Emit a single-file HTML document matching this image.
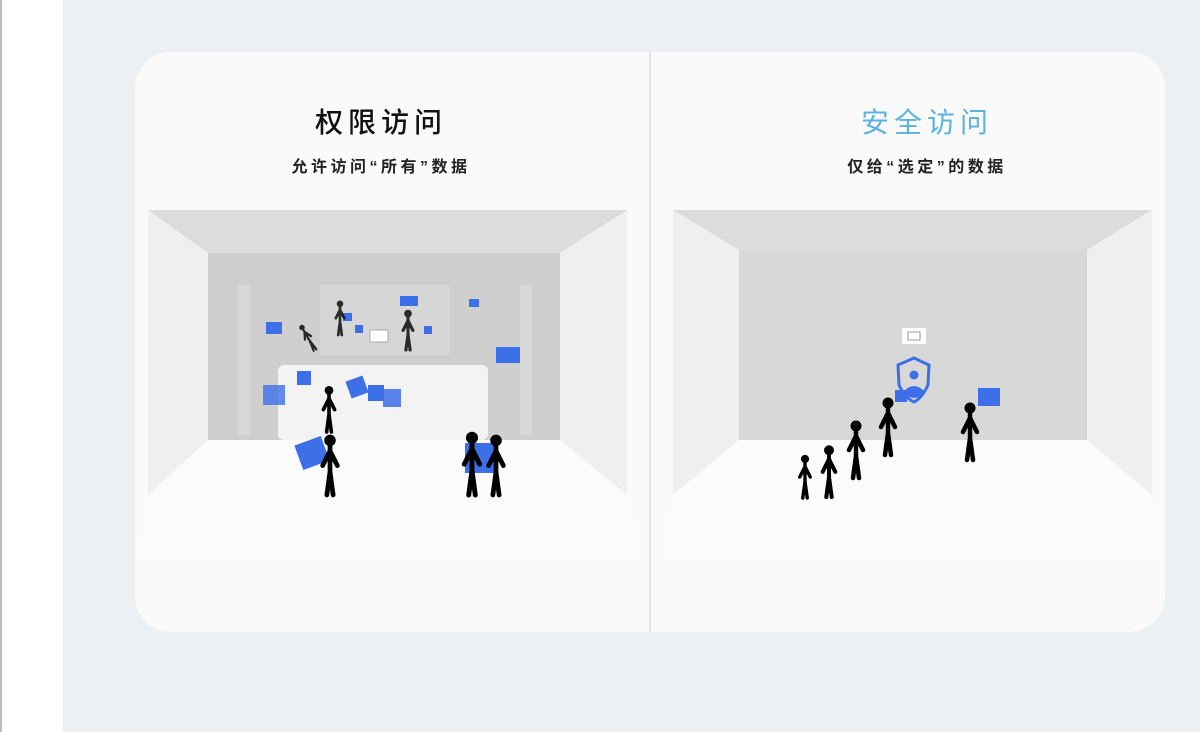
<!DOCTYPE html>
<html><head><meta charset="utf-8"><style>
html,body{margin:0;padding:0;width:1200px;height:732px;overflow:hidden;background:#fff}
svg{display:block}
text{font-family:"Liberation Sans","Noto Sans CJK SC",sans-serif}
</style></head><body>
<svg width="1200" height="732" viewBox="0 0 1200 732" xmlns="http://www.w3.org/2000/svg">
<defs>
<g id="fig">
 <circle cx="0" cy="-52" r="5.5" fill="#000"/>
 <path d="M0,-46 L0,-22 M0,-22 L-3,0 M0,-22 L3,0 M0,-42 L-7,-28 M0,-42 L7,-28" stroke="#000" stroke-width="4.5" stroke-linecap="round" fill="none"/>
</g>
</defs>
<rect x="0" y="0" width="63" height="732" fill="#fff"/>
<rect x="0" y="0" width="2" height="732" fill="#bbb"/>
<rect x="63" y="0" width="1137" height="732" fill="#edf0f2"/>
<rect x="135" y="52" width="1030" height="580" rx="36" fill="#fafafa"/>
<rect x="649" y="52" width="2" height="580" fill="#e2e2e2"/>

<text x="381" y="132" font-size="28" font-weight="500" text-anchor="middle" fill="#111" letter-spacing="5">权限访问</text>
<text x="381" y="172" font-size="16" font-weight="600" text-anchor="middle" fill="#222" letter-spacing="3.5">允许访问“所有”数据</text>
<text x="927" y="132" font-size="28" text-anchor="middle" fill="#5ab2e2" letter-spacing="5">安全访问</text>
<text x="927" y="172" font-size="16" font-weight="600" text-anchor="middle" fill="#222" letter-spacing="3.5">仅给“选定”的数据</text>

<!-- left room -->
<rect x="148" y="210" width="479" height="285" fill="#f0f0f0"/>
<polygon points="148,210 627,210 560,253 208,253" fill="#dcdcdc"/>
<polygon points="148,210 208,253 208,440 148,495" fill="#efefef"/>
<polygon points="627,210 560,253 560,440 627,495" fill="#efefef"/>
<rect x="208" y="253" width="352" height="187" fill="#cfcfcf"/>
<polygon points="208,440 560,440 627,495 640,560 140,560 148,495" fill="#fbfbfb"/>
<rect x="238" y="285" width="12" height="150" fill="#d8d8d8"/>
<rect x="520" y="285" width="12" height="150" fill="#d8d8d8"/>
<rect x="320" y="285" width="130" height="70" fill="#d6d6d6"/>
<rect x="278" y="365" width="210" height="75" rx="6" fill="#f3f3f3"/>
<rect x="370" y="330" width="18" height="12" fill="#fff" stroke="#aaa"/>
<g fill="#3d6fe8">
<rect x="266" y="322" width="16" height="12"/><rect x="400" y="296" width="18" height="10"/><rect x="343" y="313" width="9" height="8"/>
<rect x="469" y="299" width="10" height="8"/><rect x="496" y="347" width="24" height="16"/><rect x="355" y="325" width="8" height="8"/>
<rect x="424" y="326" width="8" height="8"/><rect x="297" y="371" width="14" height="14"/><rect x="263" y="385" width="22" height="20" opacity=".8"/>
<rect x="348" y="378" width="18" height="18" transform="rotate(-20 357 387)"/><rect x="368" y="385" width="16" height="16"/><rect x="383" y="389" width="18" height="18" opacity=".85"/>
<rect x="298" y="440" width="28" height="26" transform="rotate(-20 312 453)"/><rect x="465" y="443" width="30" height="30"/>
</g>
<g fill="#555" opacity=".8">
<use href="#fig" transform="translate(340,335) scale(.6)"/>
<use href="#fig" transform="translate(408,350) scale(.7)"/>
<use href="#fig" transform="translate(315,350) scale(.5) rotate(-30)"/>
</g>
<use href="#fig" transform="translate(329,432) scale(.8)"/>
<use href="#fig" transform="translate(330,495) scale(1.05)"/>
<use href="#fig" transform="translate(472,495) scale(1.1)"/>
<use href="#fig" transform="translate(496,495) scale(1.05)"/>

<!-- right room -->
<rect x="673" y="210" width="479" height="285" fill="#f0f0f0"/>
<polygon points="673,210 1152,210 1087,250 739,250" fill="#dcdcdc"/>
<polygon points="673,210 739,250 739,440 673,495" fill="#efefef"/>
<polygon points="1152,210 1087,250 1087,440 1152,495" fill="#efefef"/>
<rect x="739" y="250" width="348" height="190" fill="#d8d8d8"/>
<polygon points="739,440 1087,440 1152,495 1160,560 665,560 673,495" fill="#fbfbfb"/>
<rect x="902" y="328" width="24" height="16" fill="#fff"/>
<rect x="908" y="332" width="12" height="8" fill="none" stroke="#999"/>
<path d="M914,358 L929,365 L928,385 Q922,398 914,402 Q905,398 899,385 L898,365 Z" fill="none" stroke="#3d6fe8" stroke-width="3"/>
<circle cx="914" cy="375" r="4.5" fill="#3d6fe8"/>
<path d="M903,392 Q914,380 925,392 Q914,404 903,392 Z" fill="#3d6fe8"/>
<rect x="978" y="388" width="22" height="18" fill="#3d6fe8"/>
<rect x="895" y="390" width="12" height="12" fill="#3d6fe8"/>
<use href="#fig" transform="translate(805,498) scale(.75)"/>
<use href="#fig" transform="translate(829,497) scale(.9)"/>
<use href="#fig" transform="translate(856,478) scale(1)"/>
<use href="#fig" transform="translate(888,455) scale(1)"/>
<use href="#fig" transform="translate(970,460) scale(1)"/>
</svg>
</body></html>
